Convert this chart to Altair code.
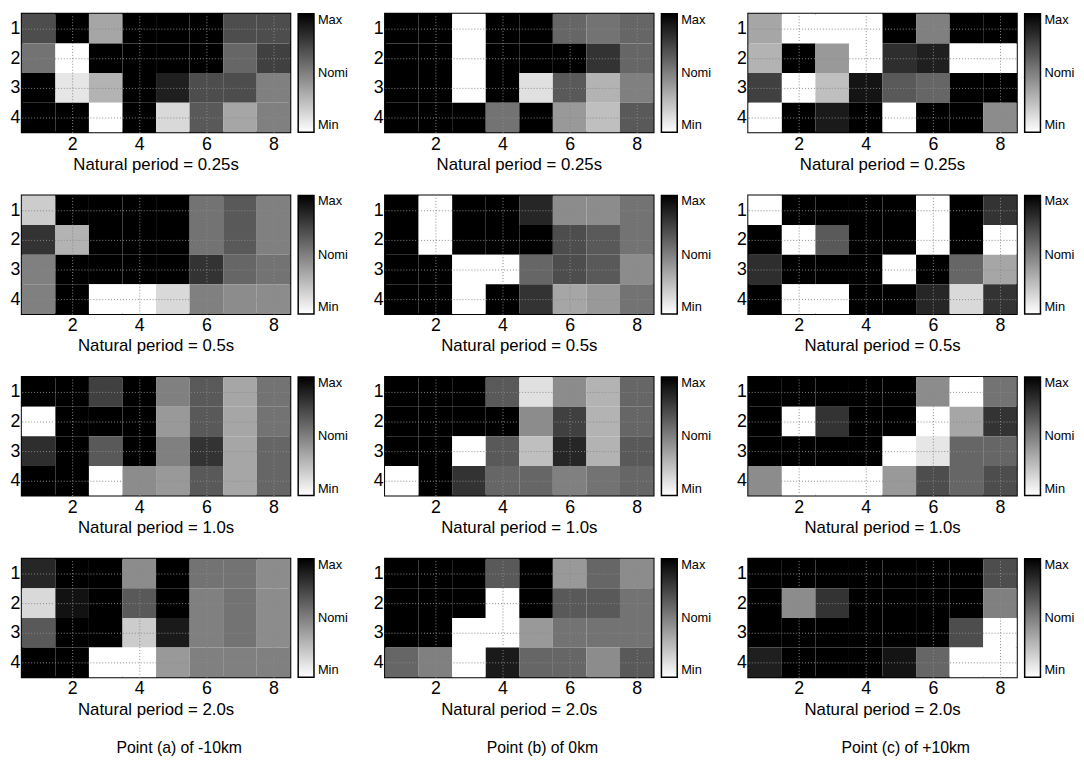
import altair as alt
import pandas as pd

FONT = "Liberation Sans"

periods = ["0.25s", "0.5s", "1.0s", "2.0s"]
points = ["Point (a) of -10km", "Point (b) of 0km", "Point (c) of +10km"]
x_ticks = [2, 4, 6, 8]
y_ticks = [1, 2, 3, 4]
bar_values = [0, 0.5, 1]

# intensity 0 = Min (white) ... 1 = Max (black); rows 1..4, columns 1..8
a_025 = [[0.7, 1, 0.35, 1, 1, 1, 0.7, 0.7],
         [0.55, 0, 1, 1, 1, 1, 0.6, 0.75],
         [1, 0.1, 0.3, 1, 0.88, 0.7, 0.7, 0.5],
         [1, 1, 0, 1, 0.15, 0.65, 0.35, 0.5]]
b_025 = [[1, 1, 0, 1, 1, 0.6, 0.55, 0.6],
         [1, 1, 0, 1, 1, 1, 0.8, 0.6],
         [1, 1, 0, 1, 0.12, 0.65, 0.3, 0.5],
         [1, 1, 1, 0.55, 1, 0.4, 0.25, 0.65]]
c_025 = [[0.35, 0, 0, 0, 1, 0.5, 1, 1],
         [0.3, 1, 0.4, 0, 0.82, 0.88, 0, 0],
         [0.75, 0, 0.25, 0.92, 0.65, 0.6, 1, 1],
         [0, 1, 0.9, 1, 0, 1, 1, 0.45]]
a_05 = [[0.2, 1, 1, 1, 1, 0.55, 0.65, 0.5],
        [0.8, 0.3, 1, 1, 1, 0.55, 0.65, 0.5],
        [0.5, 1, 1, 1, 1, 0.8, 0.6, 0.55],
        [0.5, 1, 0, 0, 0.15, 0.5, 0.45, 0.45]]
b_05 = [[1, 0, 1, 1, 0.85, 0.45, 0.45, 0.55],
        [1, 0, 1, 1, 1, 0.7, 0.65, 0.55],
        [1, 1, 0, 0, 0.6, 0.7, 0.65, 0.45],
        [1, 1, 0, 1, 0.8, 0.35, 0.4, 0.55]]
c_05 = [[0, 1, 1, 1, 1, 0, 1, 0.8],
        [1, 0, 0.65, 1, 1, 0, 1, 0],
        [0.82, 1, 1, 1, 0, 1, 0.6, 0.35],
        [1, 0, 0, 1, 1, 0.85, 0.15, 0.8]]
a_10 = [[1, 1, 0.75, 1, 0.5, 0.65, 0.35, 0.55],
        [0, 1, 1, 1, 0.4, 0.65, 0.35, 0.55],
        [0.82, 1, 0.65, 1, 0.5, 0.8, 0.35, 0.6],
        [1, 1, 0, 0.45, 0.4, 0.65, 0.35, 0.6]]
b_10 = [[1, 1, 1, 0.65, 0.12, 0.45, 0.3, 0.6],
        [1, 1, 1, 1, 0.45, 0.75, 0.3, 0.6],
        [1, 1, 0, 0.65, 0.25, 0.85, 0.3, 0.65],
        [0, 1, 0.8, 0.6, 0.6, 0.5, 0.55, 0.6]]
c_10 = [[1, 1, 1, 1, 1, 0.45, 0, 0.55],
        [1, 0, 0.8, 1, 1, 0, 0.35, 0.8],
        [1, 1, 1, 1, 0, 0.1, 0.6, 0.6],
        [0.45, 0, 0, 0, 0.4, 0.7, 0.6, 0.7]]
a_20 = [[0.85, 1, 1, 0.45, 1, 0.55, 0.55, 0.45],
        [0.15, 0.93, 1, 0.65, 1, 0.5, 0.55, 0.45],
        [0.65, 1, 1, 0.2, 0.9, 0.5, 0.55, 0.45],
        [1, 1, 0, 0, 0.4, 0.5, 0.5, 0.5]]
b_20 = [[1, 1, 1, 0.65, 1, 0.4, 0.6, 0.45],
        [1, 1, 1, 0, 1, 0.65, 0.65, 0.55],
        [1, 1, 0, 0, 0.4, 0.55, 0.55, 0.55],
        [0.6, 0.5, 0, 0.9, 0.6, 0.6, 0.45, 0.65]]
c_20 = [[1, 1, 1, 1, 1, 1, 1, 0.7],
        [1, 0.45, 0.8, 1, 1, 1, 1, 0.5],
        [1, 1, 1, 1, 1, 1, 0.7, 0],
        [0.88, 1, 1, 1, 0.92, 0.6, 0, 0]]

grids = [[a_025, a_05, a_10, a_20],
         [b_025, b_05, b_10, b_20],
         [c_025, c_05, c_10, c_20]]

W, H = 272, 120


def panel(values, period):
    df = pd.DataFrame([{"row": r + 1, "col": c + 1, "v": values[r][c]}
                       for r in range(len(values)) for c in range(len(values[0]))])
    return (
        alt.Chart(df)
        .transform_calculate(x1="datum.col - 0.5", x2="datum.col + 0.5",
                             y1="datum.row - 0.5", y2="datum.row + 0.5")
        .mark_rect()
        .encode(
            x=alt.X("x1:Q", scale=alt.Scale(domain=[0.5, 8.5], nice=False, zero=False),
                    axis=alt.Axis(values=x_ticks, title=None, grid=True, zindex=1)),
            x2="x2:Q",
            y=alt.Y("y1:Q", scale=alt.Scale(domain=[0.5, 4.5], nice=False, zero=False, reverse=True),
                    axis=alt.Axis(values=y_ticks, title=None, grid=True, zindex=1, labelPadding=2)),
            y2="y2:Q",
            color=alt.Color(
                "v:Q",
                scale=alt.Scale(domain=[0, 1], range=["#ffffff", "#000000"], interpolate="rgb"),
                legend=alt.Legend(
                    title=None, values=bar_values, orient="right", direction="vertical",
                    labelExpr="datum.value >= 1 ? 'Max' : (datum.value >= 0.5 ? 'Nomi' : 'Min')",
                    gradientLength=H, gradientThickness=16,
                    gradientStrokeColor="black", gradientStrokeWidth=1.5,
                    offset=8, padding=0, labelFontSize=13, labelOffset=4,
                    labelFont=FONT, labelColor="black",
                ),
            ),
        )
        .properties(
            width=W, height=H,
            title=alt.TitleParams(f"Natural period = {period}", orient="bottom", fontSize=17,
                                  fontWeight="normal", font=FONT, color="black", offset=4,
                                  frame="group", anchor="middle"),
        )
    )


columns = []
for ci, point in enumerate(points):
    col = alt.vconcat(
        *[panel(grids[ci][pi], periods[pi]) for pi in range(len(periods))],
        spacing=21,
        title=alt.TitleParams(point, orient="bottom", fontSize=16, fontWeight="normal",
                              font=FONT, color="black", offset=22, anchor="middle"),
    ).resolve_scale(color="independent").resolve_legend(color="independent")
    columns.append(col)

chart = (
    alt.hconcat(*columns, spacing=22)
    .resolve_scale(color="independent")
    .resolve_legend(color="independent")
    .properties(padding={"left": 0, "top": 0, "right": 0, "bottom": 0})
    .configure_view(stroke="black", strokeWidth=2)
    .configure_axis(labelFont=FONT, labelFontSize=18, labelColor="black", ticks=False,
                    domain=False, labelPadding=3, gridColor="#8a8a8a", gridDash=[1, 2],
                    gridWidth=1)
)

chart.save("out.html", embed_options={"renderer": "svg", "actions": False})
